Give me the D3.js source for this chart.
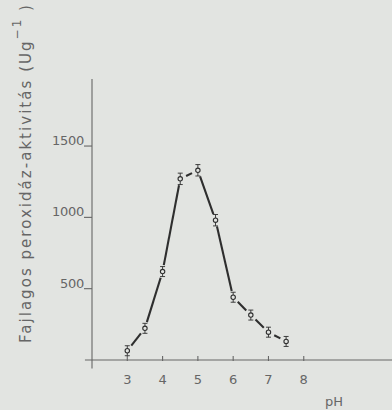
<!DOCTYPE html>
<html>
<head>
<meta charset="utf-8">
<script src="https://cdn.jsdelivr.net/npm/d3@7"></script>
<style>
  html, body { margin: 0; padding: 0; background: #e2e4e1; }
  #graph { width: 392px; height: 410px; }
</style>
</head>
<body>
<div id="graph"></div>
<script>
// Data ////////////////////////////////////////////////////////////////////
const phValues = [3, 3.5, 4, 4.5, 5, 5.5, 6, 6.5, 7, 7.5];
const activity = [65, 222, 620, 1270, 1330, 980, 440, 315, 195, 130];
const errors = [35, 35, 35, 40, 40, 40, 35, 35, 35, 35];
const xTicks = [3, 4, 5, 6, 7, 8];
const yTicks = [500, 1000, 1500];

// Constants ///////////////////////////////////////////////////////////////
const svgWidth = 392;
const svgHeight = 410;
const ink = "#2e2e2e";
const axisColor = "#666";
const textColor = "#666";
const font = "'DejaVu Sans', sans-serif";

const x = d3.scaleLinear().domain([2, 10.5]).range([92, 392]);
const y = d3.scaleLinear().domain([0, 1970]).range([360, 79]);

const svg = d3
  .select("#graph")
  .append("svg")
  .attr("width", svgWidth)
  .attr("height", svgHeight)
  .style("background", "#e2e4e1");

// Axes ////////////////////////////////////////////////////////////////////
const axes = svg.append("g").attr("stroke", axisColor).attr("stroke-width", 1.1);

axes.append("line")
  .attr("x1", x(1.8)).attr("x2", x(10.5))
  .attr("y1", y(0)).attr("y2", y(0));

axes.append("line")
  .attr("x1", x(2)).attr("x2", x(2))
  .attr("y1", y(1970)).attr("y2", y(-60));

axes.selectAll(".xtick")
  .data(xTicks)
  .join("line")
  .attr("class", "xtick")
  .attr("x1", d => x(d)).attr("x2", d => x(d))
  .attr("y1", y(0) - 4).attr("y2", y(0) + 1);

axes.selectAll(".ytick")
  .data(yTicks)
  .join("line")
  .attr("class", "ytick")
  .attr("x1", x(2) - 8).attr("x2", x(2))
  .attr("y1", d => y(d)).attr("y2", d => y(d));

svg.selectAll(".xlabel")
  .data(xTicks)
  .join("text")
  .attr("class", "xlabel")
  .attr("x", d => x(d))
  .attr("y", y(0) + 24)
  .attr("text-anchor", "middle")
  .style("font-family", font)
  .style("font-size", "13px")
  .style("fill", textColor)
  .text(d => d);

svg.selectAll(".ylabel")
  .data(yTicks)
  .join("text")
  .attr("class", "ylabel")
  .attr("x", x(2) - 8)
  .attr("y", d => y(d) - 1)
  .attr("text-anchor", "end")
  .style("font-family", font)
  .style("font-size", "13px")
  .style("letter-spacing", "-0.3px")
  .style("fill", textColor)
  .text(d => d);

svg.append("text")
  .attr("x", 334)
  .attr("y", 406)
  .attr("text-anchor", "middle")
  .style("font-family", font)
  .style("font-size", "13px")
  .style("fill", textColor)
  .text("pH");

const yTitle = svg.append("text")
  .attr("transform", "translate(31, 343) rotate(-90)")
  .attr("textLength", 338)
  .attr("lengthAdjust", "spacing")
  .style("font-family", font)
  .style("font-size", "15px")
  .style("fill", textColor);

yTitle.append("tspan").text("Fajlagos  peroxidáz-aktivitás (Ug");
yTitle.append("tspan").attr("dy", -10).style("font-size", "12px").text("−1");
yTitle.append("tspan").attr("dy", 10).text(" )");

// Curve ///////////////////////////////////////////////////////////////////
const points = phValues.map((ph, i) => ({
  px: x(ph),
  py: y(activity[i]),
  lo: y(activity[i] - errors[i]),
  hi: y(activity[i] + errors[i])
}));

const gap = 6.5;
const segments = d3.pairs(points).map(([a, b]) => {
  const dx = b.px - a.px;
  const dy = b.py - a.py;
  const len = Math.hypot(dx, dy);
  return {
    x1: a.px + (dx / len) * gap,
    y1: a.py + (dy / len) * gap,
    x2: b.px - (dx / len) * gap,
    y2: b.py - (dy / len) * gap
  };
});

svg.append("g")
  .selectAll("line")
  .data(segments)
  .join("line")
  .attr("x1", d => d.x1).attr("y1", d => d.y1)
  .attr("x2", d => d.x2).attr("y2", d => d.y2)
  .attr("stroke", ink)
  .attr("stroke-width", 2.1);

const marker = svg.append("g")
  .selectAll("g")
  .data(points)
  .join("g")
  .attr("stroke", ink)
  .attr("stroke-width", 0.9);

marker.append("line")
  .attr("x1", d => d.px).attr("x2", d => d.px)
  .attr("y1", d => d.hi).attr("y2", d => d.lo);

marker.append("line")
  .attr("x1", d => d.px - 2.5).attr("x2", d => d.px + 2.5)
  .attr("y1", d => d.hi).attr("y2", d => d.hi);

marker.append("line")
  .attr("x1", d => d.px - 2.5).attr("x2", d => d.px + 2.5)
  .attr("y1", d => d.lo).attr("y2", d => d.lo);

marker.append("circle")
  .attr("cx", d => d.px)
  .attr("cy", d => d.py)
  .attr("r", 2.2)
  .attr("fill", "#e2e4e1")
  .attr("stroke-width", 1.1);
</script>
</body>
</html>
